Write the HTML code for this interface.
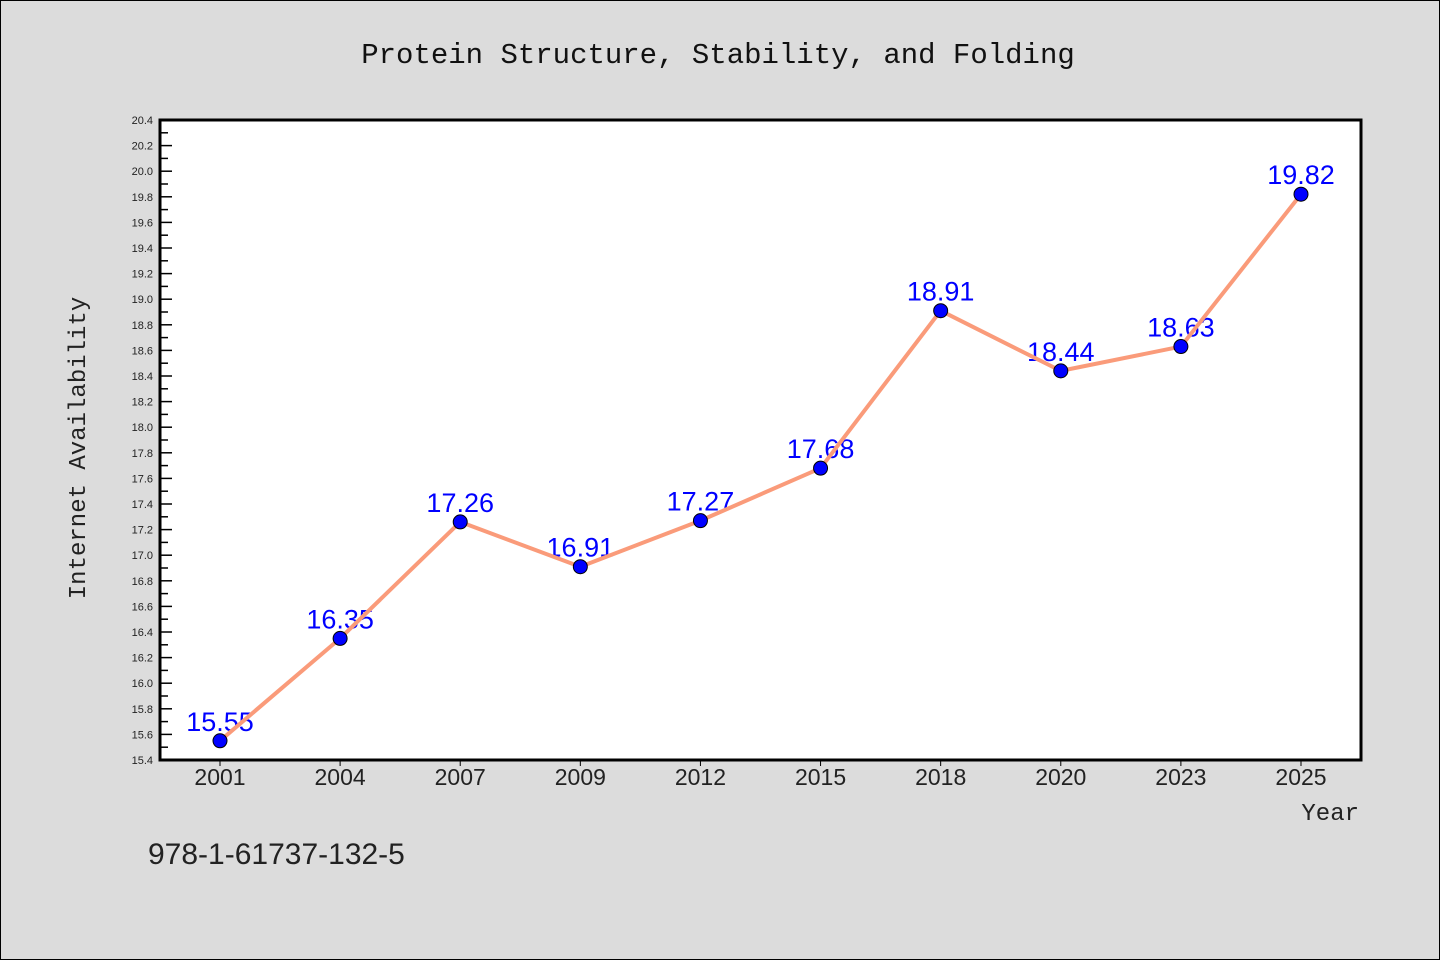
<!DOCTYPE html>
<html><head><meta charset="utf-8"><style>
body{margin:0;background:#dcdcdc;}
svg{display:block;font-family:"Liberation Sans","DejaVu Sans",sans-serif;}
</style></head><body>
<svg id="chart" width="1440" height="960">
<rect x="0.5" y="0.5" width="1439" height="959" fill="#dcdcdc" stroke="#000" stroke-width="1"/>
<text x="718" y="63" text-anchor="middle" font-family="Liberation Mono,monospace" font-size="29" fill="#111">Protein Structure, Stability, and Folding</text>
<rect x="160" y="120" width="1201" height="640" fill="#fff"/>
<g id="yaxis"></g><g id="xaxis"></g><g id="series"></g>
<rect x="160" y="120" width="1201" height="640" fill="none" stroke="#000" stroke-width="3"/>
<text transform="translate(85,448) rotate(-90)" text-anchor="middle" font-family="Liberation Mono,monospace" font-size="24" fill="#222">Internet Availability</text>
<text x="1359" y="820" text-anchor="end" font-family="Liberation Mono,monospace" font-size="24" fill="#222">Year</text>
<text x="148" y="864" font-size="30" fill="#222">978-1-61737-132-5</text>
</svg>
<script>
const categories=["2001","2004","2007","2009","2012","2015","2018","2020","2023","2025"];
const values=[15.55,16.35,17.26,16.91,17.27,17.68,18.91,18.44,18.63,19.82];
const labels=["15.55","16.35","17.26","16.91","17.27","17.68","18.91","18.44","18.63","19.82"];
const yMin=15.4,yMax=20.4;
const NS="http://www.w3.org/2000/svg";
const L=160,R=1361,T=120,B=760;
const y=v=>B-(v-yMin)/(yMax-yMin)*(B-T);
const x=i=>220+i*(R-L-120)/(categories.length-1)*1;
function mk(tag,attrs,parent,text){const e=document.createElementNS(NS,tag);for(const k in attrs)e.setAttribute(k,attrs[k]);if(text!==undefined)e.textContent=text;parent.appendChild(e);return e;}
const ya=document.getElementById('yaxis');
for(let k=0;k<=50;k++){const v=yMin+k*0.1;const yy=y(v);
const major=k%2===0;
const t=mk('line',{x1:L,x2:L+(major?12:8),y1:yy,y2:yy,stroke:'#000','stroke-width':1.5},ya);


if(major){const tx=mk('text',{x:153,y:yy+4,'text-anchor':'end','font-size':11,fill:'#222'},ya,v.toFixed(1));

}}
const xa=document.getElementById('xaxis');
categories.forEach((c,i)=>{const xx=x(i);
const t=mk('line',{x1:xx,x2:xx,y1:B,y2:B+6,stroke:'#000','stroke-width':1},xa);


const tx=mk('text',{x:xx,y:785,'text-anchor':'middle','font-size':23,fill:'#222'},xa,c);

});
const s=document.getElementById('series');
values.forEach((v,i)=>{const tx=mk('text',{x:x(i),y:y(v)-10,'text-anchor':'middle','font-size':27,fill:'#0000ff'},s,labels[i]);

});
const pl=mk('polyline',{points:values.map((v,i)=>x(i)+','+y(v)).join(' '),fill:'none',stroke:'#fa9b7a','stroke-width':4,'stroke-linejoin':'round'},s);


values.forEach((v,i)=>{const c=mk('circle',{cx:x(i),cy:y(v),r:7,fill:'#0000ff',stroke:'#000','stroke-width':1},s);

});
</script>
</body></html>
